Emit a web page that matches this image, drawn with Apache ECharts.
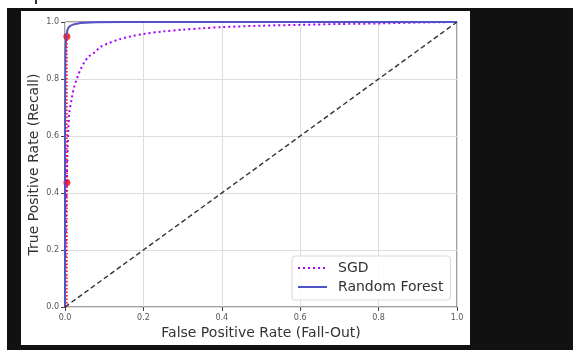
<!DOCTYPE html>
<html>
<head>
<meta charset="utf-8">
<script src="https://cdn.jsdelivr.net/npm/echarts@6/dist/echarts.min.js"></script>
<style>
  html, body { margin: 0; padding: 0; background: #ffffff; width: 586px; height: 361px; overflow: hidden; }
  #frame { position: absolute; left: 7px; top: 8px; width: 566px; height: 342px; background: #111111; }
  #mark { position: absolute; left: 35px; top: 0px; width: 2px; height: 4px; background: #3a3020; }
  #chart { position: absolute; left: 21px; top: 11px; width: 449px; height: 334px; background: #ffffff; }
</style>
</head>
<body>
<div id="mark"></div>
<div id="frame"></div>
<div id="chart"></div>
<script>
// ---- data ----
const sgdFpr = [0, 0.001, 0.002, 0.003, 0.0048, 0.0065, 0.0085, 0.011, 0.017, 0.023, 0.03, 0.04, 0.05, 0.06, 0.077, 0.09, 0.11, 0.14, 0.17, 0.2, 0.25, 0.3, 0.35, 0.4, 0.5, 0.6, 0.7, 0.8, 0.9, 1.0];
const sgdTpr = [0, 0.12, 0.25, 0.35, 0.44, 0.55, 0.62, 0.68, 0.73, 0.77, 0.80, 0.835, 0.86, 0.878, 0.895, 0.912, 0.925, 0.94, 0.95, 0.958, 0.967, 0.973, 0.978, 0.982, 0.987, 0.99, 0.993, 0.995, 0.998, 1.0];
const rfFpr = [0, 0, 0.001, 0.002, 0.004, 0.007, 0.012, 0.02, 0.03, 0.05, 0.08, 0.15, 1.0];
const rfTpr = [0, 0.5, 0.85, 0.92, 0.955, 0.975, 0.985, 0.991, 0.994, 0.997, 0.999, 1.0, 1.0];
const diagFpr = [0, 1];
const diagTpr = [0, 1];
const thresholdFpr = 0.004837;
const thresholdTpr = [0.4368, 0.9487];
const xTicks = [0, 0.2, 0.4, 0.6, 0.8, 1.0];
const yTicks = [0, 0.2, 0.4, 0.6, 0.8, 1.0];
const seriesNames = ['SGD', 'Random Forest'];
const xTitle = 'False Positive Rate (Fall-Out)';
const yTitle = 'True Positive Rate (Recall)';

const zip = (a, b) => a.map((v, i) => [v, b[i]]);
const font = 'DejaVu Sans';

const chart = echarts.init(document.getElementById('chart'), null, { renderer: 'canvas' });
const axisCommon = {
  type: 'value', min: 0, max: 1, interval: 0.2,
  axisLine: { show: false },
  axisTick: { show: true, length: 4, lineStyle: { color: '#444', width: 1 } },
  axisLabel: { fontFamily: font, fontSize: 8, color: '#555', formatter: v => v.toFixed(1) },
  splitLine: { show: true, lineStyle: { color: '#dddddd', width: 1 } },
  nameLocation: 'middle',
  nameTextStyle: { fontFamily: font, fontSize: 14, color: '#333' }
};
chart.setOption({
  animation: false,
  grid: { left: 44, top: 11, width: 392, height: 285, show: true, borderColor: '#444', borderWidth: 1,
          backgroundColor: 'transparent', containLabel: false, outerBoundsMode: 'none' },
  xAxis: Object.assign({}, axisCommon, { name: xTitle, nameGap: 19, nameMoveOverlap: false,
    axisLabel: Object.assign({}, axisCommon.axisLabel, { margin: 7 }) }),
  yAxis: Object.assign({}, axisCommon, { name: yTitle, nameGap: 24, nameMoveOverlap: false,
    axisLabel: Object.assign({}, axisCommon.axisLabel, { margin: 6 }) }),
  legend: {
    data: seriesNames,
    orient: 'vertical',
    left: 271, top: 245,
    padding: [5, 7, 6, 5],
    itemWidth: 29, itemHeight: 14, itemGap: 5,
    itemStyle: { opacity: 0 },
    backgroundColor: 'rgba(255,255,255,0.85)',
    borderColor: '#d8d8d8', borderWidth: 1, borderRadius: 3,
    textStyle: { fontFamily: font, fontSize: 14, color: '#333', padding: [0, 0, 0, 6] }
  },
  series: [
    { name: seriesNames[0], type: 'line', data: zip(sgdFpr, sgdTpr), symbol: 'none', smooth: 0.3,
      lineStyle: { color: '#aa00ff', width: 2, type: [2, 3] }, itemStyle: { color: '#aa00ff' } },
    { name: seriesNames[1], type: 'line', data: zip(rfFpr, rfTpr), symbol: 'none', smooth: 0.3,
      lineStyle: { color: '#5252c8', width: 2 }, itemStyle: { color: '#5252c8' } },
    { name: 'diag', type: 'line', data: zip(diagFpr, diagTpr), symbol: 'none',
      lineStyle: { color: '#333', width: 1.4, type: [5, 3] } },
    { name: 'thr1', type: 'line', data: [[thresholdFpr, 0], [thresholdFpr, thresholdTpr[1]]], symbol: 'none',
      lineStyle: { color: '#ff0000', width: 1.5, type: [1.5, 2] } },
    { name: 'thr2', type: 'line', data: [[0, thresholdTpr[0]], [thresholdFpr, thresholdTpr[0]]], symbol: 'none',
      lineStyle: { color: '#ff0000', width: 1.5, type: [1.5, 2] } },
    { name: 'pts', type: 'scatter', data: thresholdTpr.map(t => [thresholdFpr, t]), symbolSize: 7,
      itemStyle: { color: '#ff0000' } }
  ]
});
</script>
</body>
</html>
